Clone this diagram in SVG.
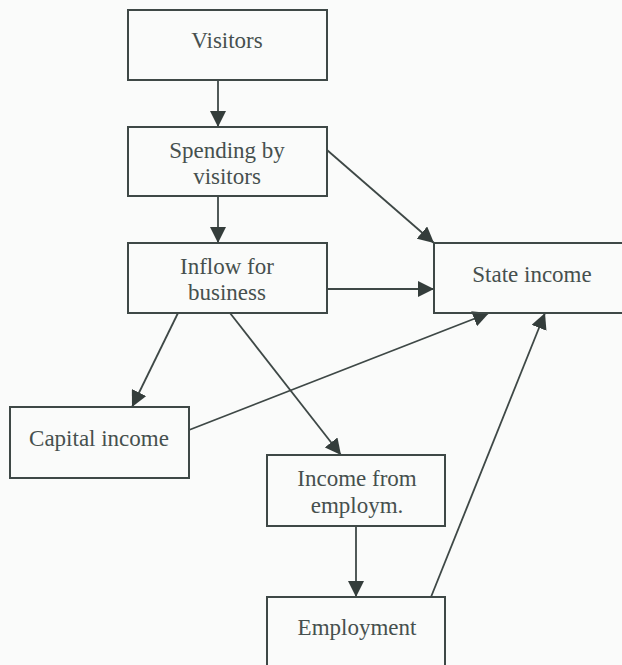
<svg xmlns="http://www.w3.org/2000/svg" width="622" height="665" viewBox="0 0 622 665">
  <style>
    .box { fill: none; stroke: #3e4846; stroke-width: 2; }
    .lbl { font-family: "Liberation Serif", "Times New Roman", serif; font-size: 23px; fill: #46504e; text-anchor: middle; }
    .edge { fill: none; stroke: #3e4846; stroke-width: 1.8; marker-end: url(#head); }
  </style>
  <defs>
    <marker id="head" markerUnits="userSpaceOnUse" markerWidth="16" markerHeight="16" viewBox="0 0 16 16" refX="16" refY="8" orient="auto">
      <path d="M0,0 L16,8 L0,16 Z" fill="#343d3b"/>
    </marker>
  </defs>
  <rect x="0" y="0" width="622" height="665" fill="#fafbfa"/>

  <g id="connectors">
    <line class="edge" x1="218" y1="80" x2="218" y2="127"/>
    <line class="edge" x1="218" y1="196" x2="218" y2="243"/>
    <line class="edge" x1="327" y1="150" x2="434" y2="243"/>
    <line class="edge" x1="327" y1="289" x2="434" y2="289"/>
    <line class="edge" x1="178" y1="313" x2="132" y2="407"/>
    <line class="edge" x1="230" y1="313" x2="341" y2="455"/>
    <line class="edge" x1="189" y1="430" x2="489" y2="313"/>
    <line class="edge" x1="356" y1="526" x2="356" y2="597"/>
    <line class="edge" x1="431" y1="597" x2="545" y2="313"/>
  </g>

  <g id="visitors">
    <rect class="box" x="128" y="10" width="199" height="70"/>
    <text class="lbl" x="227" y="48">Visitors</text>
  </g>
  <g id="spending">
    <rect class="box" x="128" y="127" width="199" height="69"/>
    <text class="lbl" x="227" y="158">Spending by</text>
    <text class="lbl" x="227" y="184">visitors</text>
  </g>
  <g id="inflow">
    <rect class="box" x="128" y="243" width="199" height="70"/>
    <text class="lbl" x="227" y="274">Inflow for</text>
    <text class="lbl" x="227" y="300">business</text>
  </g>
  <g id="state-income">
    <rect class="box" x="434" y="243" width="210" height="70"/>
    <text class="lbl" x="532" y="282">State income</text>
  </g>
  <g id="capital-income">
    <rect class="box" x="10" y="407" width="179" height="71"/>
    <text class="lbl" x="99" y="446">Capital income</text>
  </g>
  <g id="income-employment">
    <rect class="box" x="267" y="455" width="178" height="71"/>
    <text class="lbl" x="357" y="486">Income from</text>
    <text class="lbl" x="357" y="513">employm.</text>
  </g>
  <g id="employment">
    <rect class="box" x="267" y="597" width="178" height="90"/>
    <text class="lbl" x="357" y="635">Employment</text>
  </g>
</svg>
